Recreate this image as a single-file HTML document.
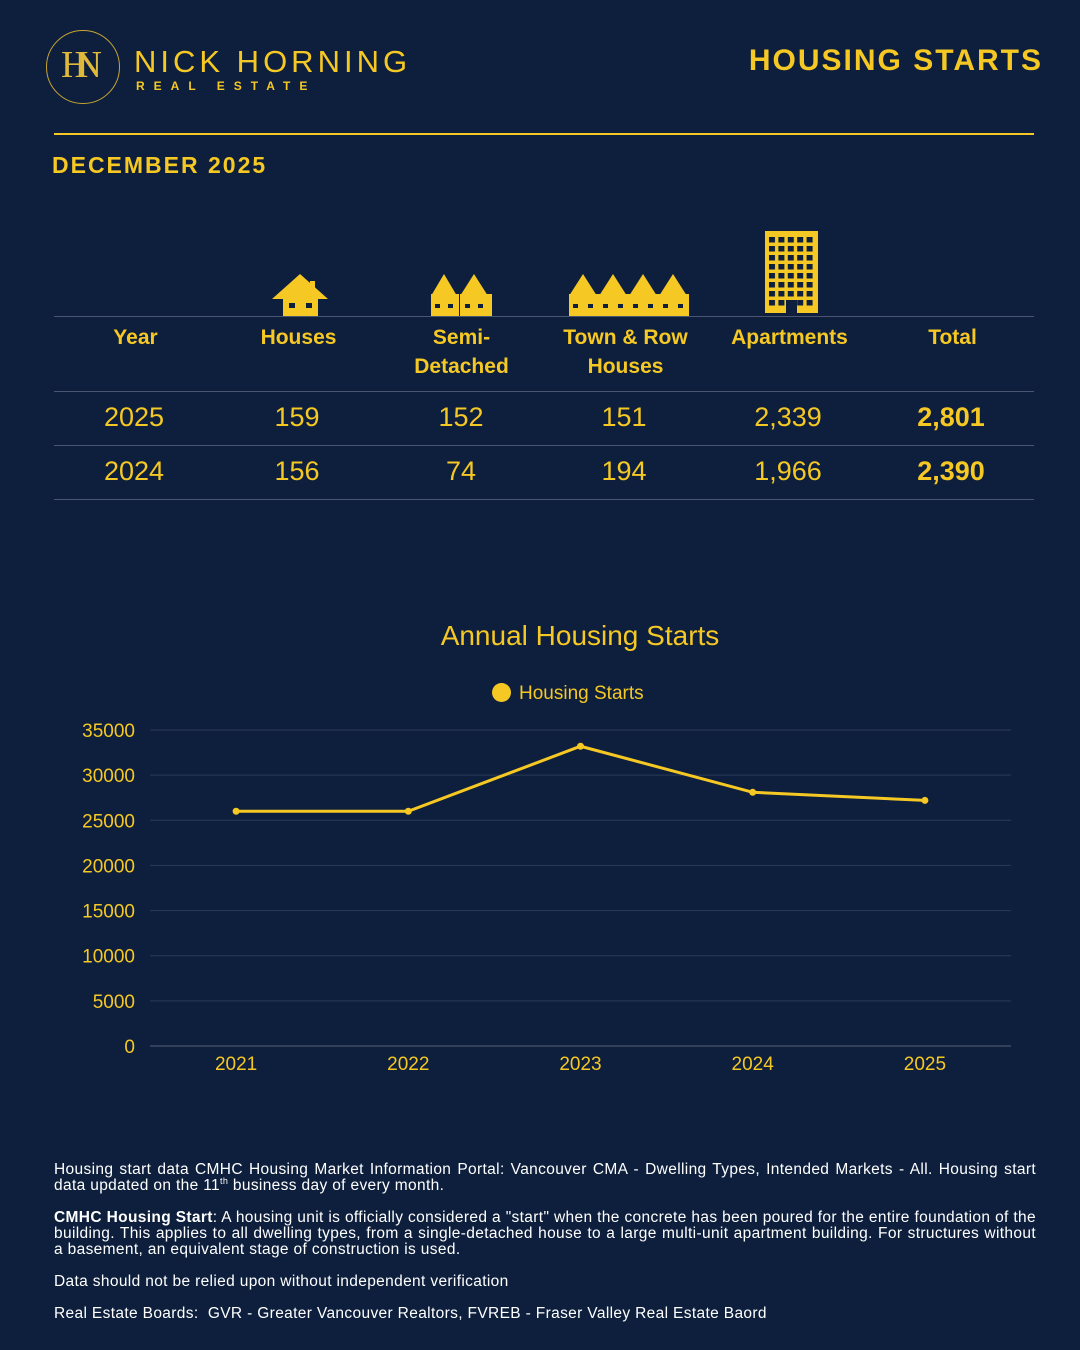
<!DOCTYPE html>
<html><head><meta charset="utf-8"><style>
body{margin:0;width:1080px;height:1350px;background:#0d1f3c;font-family:"Liberation Sans",sans-serif;color:#f6c824;position:relative;overflow:hidden}
.a{position:absolute}
.hd{font-weight:bold;font-size:21px;text-align:center;color:#f6c824}
.row{position:absolute;left:54px;width:980px;height:54px;font-size:27px;color:#f6c824}
.row div{position:absolute;width:160px;text-align:center;top:10px}
.foot{position:absolute;left:54px;width:982px;font-size:15.5px;color:#fff;line-height:16px;text-align:justify;letter-spacing:0.35px}
</style></head><body>
<div class="a" style="left:46px;top:30px;width:72px;height:72px;border-radius:50%;border:1px solid #c9a532"><div style="position:absolute;left:14px;top:12px;font-family:'Liberation Serif',serif;font-size:38px;color:#e0b93a;letter-spacing:-14px">HN</div></div>
<div class="a" style="left:134px;top:44px;font-size:31px;letter-spacing:4px;color:#f6c824">NICK HORNING</div>
<div class="a" style="left:136px;top:79px;font-size:12px;font-weight:bold;letter-spacing:9px;color:#f6c824">REAL ESTATE</div>
<div class="a" style="right:37px;top:44px;font-size:30px;font-weight:bold;letter-spacing:2px">HOUSING STARTS</div>
<div class="a" style="left:54px;top:133px;width:980px;height:2px;background:#f6c824"></div>
<div class="a" style="left:52px;top:152px;font-size:23px;font-weight:bold;letter-spacing:2px">DECEMBER 2025</div>

<svg class="a" style="left:0;top:0" width="1080" height="330">
<defs><pattern id="win" x="768" y="236" width="9.4" height="9" patternUnits="userSpaceOnUse"><rect x="1" y="1" width="6" height="5.5" fill="#0d1f3c"/></pattern></defs>
<g fill="#f6c824">
<polygon points="272,299 300,274 328,299"/><rect x="283" y="296" width="35" height="20"/><rect x="310" y="281" width="5" height="12"/>
<polygon points="431,296 444,274 457,296"/><rect x="431" y="294" width="28" height="22"/><polygon points="460,296 474,274 488,296"/><rect x="460" y="294" width="32" height="22"/>
<g id="tw"><polygon points="569,296 583,274 597,296"/><rect x="569" y="294" width="30" height="22"/></g>
<use href="#tw" x="30"/><use href="#tw" x="60"/><use href="#tw" x="90"/>
<rect x="765" y="231" width="53" height="82"/>
</g>
<rect x="768" y="236" width="47" height="72" fill="url(#win)"/>
<g fill="#0d1f3c">
<rect x="289" y="303" width="6" height="5"/><rect x="306" y="303" width="6" height="5"/>
<rect x="435" y="304" width="5" height="4"/><rect x="448" y="304" width="5" height="4"/><rect x="465" y="304" width="5" height="4"/><rect x="478" y="304" width="5" height="4"/>
<rect x="573" y="304" width="5" height="4"/><rect x="588" y="304" width="5" height="4"/><rect x="603" y="304" width="5" height="4"/><rect x="618" y="304" width="5" height="4"/><rect x="633" y="304" width="5" height="4"/><rect x="648" y="304" width="5" height="4"/><rect x="663" y="304" width="5" height="4"/><rect x="678" y="304" width="5" height="4"/>
<rect x="786" y="300" width="11" height="13"/>
</g></svg>

<div class="a" style="left:54px;top:316px;width:980px;height:1px;background:#4a5670"></div>
<div class="a hd" style="left:54px;top:326px;width:163px">Year</div>
<div class="a hd" style="left:217px;top:326px;width:163px">Houses</div>
<div class="a hd" style="left:380px;top:323px;width:163px;line-height:29px">Semi-<br>Detached</div>
<div class="a hd" style="left:543px;top:323px;width:165px;line-height:29px">Town &amp; Row<br>Houses</div>
<div class="a hd" style="left:708px;top:326px;width:163px">Apartments</div>
<div class="a hd" style="left:871px;top:326px;width:163px">Total</div>
<div class="a" style="left:54px;top:391px;width:980px;height:1px;background:#4a5670"></div>
<div class="row" style="top:392px"><div style="left:0">2025</div><div style="left:163px">159</div><div style="left:327px">152</div><div style="left:490px">151</div><div style="left:654px">2,339</div><div style="left:817px;font-weight:bold">2,801</div></div>
<div class="a" style="left:54px;top:445px;width:980px;height:1px;background:#4a5670"></div>
<div class="row" style="top:446px"><div style="left:0">2024</div><div style="left:163px">156</div><div style="left:327px">74</div><div style="left:490px">194</div><div style="left:654px">1,966</div><div style="left:817px;font-weight:bold">2,390</div></div>
<div class="a" style="left:54px;top:499px;width:980px;height:1px;background:#4a5670"></div>

<div class="a" style="left:0;width:1160px;text-align:center;top:620px;font-size:28px">Annual Housing Starts</div>
<div class="a" style="left:492px;top:683px;font-size:19px"><span style="display:inline-block;width:19px;height:19px;border-radius:50%;background:#f6c824;vertical-align:-3px;margin-right:8px"></span>Housing Starts</div>
<svg id="chart" class="a" style="left:0;top:700px" width="1080" height="400"></svg>

<div class="foot" style="top:1162px">Housing start data CMHC Housing Market Information Portal: Vancouver CMA - Dwelling Types, Intended Markets - All. Housing start data updated on the 11<sup style="font-size:9px;line-height:0">th</sup> business day of every month.</div>
<div class="foot" style="top:1210px"><b>CMHC Housing Start</b>: A housing unit is officially considered a "start" when the concrete has been poured for the entire foundation of the building. This applies to all dwelling types, from a single-detached house to a large multi-unit apartment building. For structures without a basement, an equivalent stage of construction is used.</div>
<div class="foot" style="top:1274px">Data should not be relied upon without independent verification</div>
<div class="foot" style="top:1306px">Real Estate Boards:&nbsp; GVR - Greater Vancouver Realtors, FVREB - Fraser Valley Real Estate Baord</div>

<script>
const categories=["2021","2022","2023","2024","2025"];
const values=[26000,26000,33200,28100,27200];
const ticks=[0,5000,10000,15000,20000,25000,30000,35000];
const svg=document.getElementById('chart');
const NS='http://www.w3.org/2000/svg';
const x0=150,x1=1011,yTop=30,yBot=346,ymax=35000;
const bw=(x1-x0)/categories.length;
const X=i=>x0+bw*(i+0.5);
const Y=v=>yBot-(v/ymax)*(yBot-yTop);
function mk(t,a){const e=document.createElementNS(NS,t);for(const k in a)e.setAttribute(k,a[k]);svg.appendChild(e);return e;}
ticks.forEach(t=>{
 const g=mk('line',{x1:x0,x2:x1,y1:Y(t),y2:Y(t),stroke:t===0?'#56607a':'#2a3a58','stroke-width':1});
 
 
 const l=mk('text',{x:135,y:Y(t)+7,'text-anchor':'end',fill:'#f6c824','font-size':19,'font-family':'Liberation Sans, sans-serif'});
 l.textContent=t;
 
 
});
categories.forEach((c,i)=>{
 const l=mk('text',{x:X(i),y:370,'text-anchor':'middle',fill:'#f6c824','font-size':19,'font-family':'Liberation Sans, sans-serif'});
 l.textContent=c;
 
 
});
const p=mk('polyline',{points:values.map((v,i)=>X(i)+','+Y(v)).join(' '),fill:'none',stroke:'#f6c824','stroke-width':3});


values.forEach((v,i)=>{
 const c=mk('circle',{cx:X(i),cy:Y(v),r:3.5,fill:'#f6c824'});
 
 
});
</script>
</body></html>
